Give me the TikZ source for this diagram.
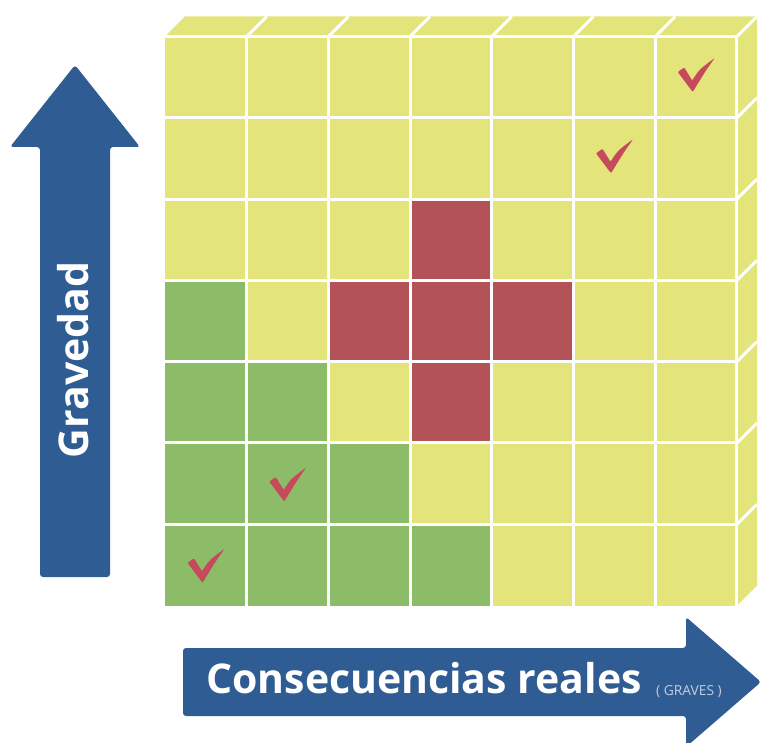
\documentclass[tikz,border=0pt]{standalone}
\usepackage{fontspec}
\setmainfont{Open Sans}
\definecolor{cy}{HTML}{E3E57A}
\definecolor{cg}{HTML}{8CBC68}
\definecolor{cr}{HTML}{B45357}
\definecolor{cb}{HTML}{2F5C92}
\definecolor{ck}{HTML}{C64A5C}
\definecolor{cl}{HTML}{C2CEE0}
\tikzset{
  gridline/.style={white, line width=3pt},
  arrowshape/.style={fill=cb, rounded corners=3pt},
  chkmark/.pic={\fill[ck, rounded corners=1pt] (22.5,38.5) -- (29,34) -- (37,47) .. controls (44,36) .. (59.5,24.5) .. controls (50,38) .. (37.5,58.5) -- cycle;},
  bigtext/.style={white, inner sep=0pt, font=\bfseries\fontsize{41}{41}\selectfont}
}
\begin{document}
\begin{tikzpicture}[x=1pt,y=-1pt]
\useasboundingbox (0,0) rectangle (761,743);
\clip (0,0) rectangle (761,743);
\def\xo{165}\def\yo{36.5}\def\cw{81.7}\def\ch{81.3}
% top and right faces
\fill[cy] (165,36.5) -- (737,36.5) -- (757,16.5) -- (185,16.5) -- cycle;
\fill[cy] (737,36.5) -- (757,16.5) -- (757,585.5) -- (737,605.6) -- cycle;
% cells
\foreach \rowlist [count=\r from 0] in {
  {y,y,y,y,y,y,y},
  {y,y,y,y,y,y,y},
  {y,y,y,r,y,y,y},
  {g,y,r,r,r,y,y},
  {g,g,y,r,y,y,y},
  {g,g,g,y,y,y,y},
  {g,g,g,g,y,y,y}}{
  \foreach \c [count=\k from 0] in \rowlist {
    \fill[c\c] ({\xo+\k*\cw},{\yo+\r*\ch}) rectangle ++(\cw,\ch);
  }
}
% white grid lines on front
\foreach \i in {1,...,6}{
  \draw[gridline] ({\xo+\i*\cw},\yo) -- ({\xo+\i*\cw},{\yo+7*\ch});
  \draw[gridline] (\xo,{\yo+\i*\ch}) -- ({\xo+7*\cw},{\yo+\i*\ch});
}
\draw[gridline] (\xo,\yo) -- ({\xo+7*\cw},\yo);
\draw[gridline] ({\xo+7*\cw},\yo) -- ({\xo+7*\cw},{\yo+7*\ch});
% top face slant lines
\foreach \i in {1,...,7}{
  \draw[gridline] ({\xo+\i*\cw},\yo) -- ++(20,-20);
}
% right face slant lines
\foreach \j in {1,...,6}{
  \draw[gridline] ({\xo+7*\cw},{\yo+\j*\ch}) -- ++(20,-20);
}
% check marks
\pic at ({\xo+6*\cw},{\yo+0*\ch-3}) {chkmark};
\pic at ({\xo+5*\cw},{\yo+1*\ch-3}) {chkmark};
\pic at ({\xo+1*\cw},{\yo+5*\ch}) {chkmark};
\pic at ({\xo+0*\cw},{\yo+6*\ch}) {chkmark};
% vertical arrow
\fill[arrowshape] (40,577) -- (40,147) -- (10,147) -- (75,65) -- (140,147) -- (110,147) -- (110,577) -- cycle;
\node[bigtext, rotate=90] (grav) at (73,360) {Gravedad};
% horizontal arrow
\fill[arrowshape] (183,648) -- (686,648) -- (686,617) -- (761,682) -- (686,747) -- (686,716) -- (183,716) -- cycle;
\node[bigtext, anchor=base west] (cons) at (206,693) {Consecuencias reales};
\node[cl, inner sep=0pt, anchor=base west, font=\fontsize{13.8}{13.8}\selectfont] (grv) at (656,695.5) {( GRAVES )};
\end{tikzpicture}
\end{document}
